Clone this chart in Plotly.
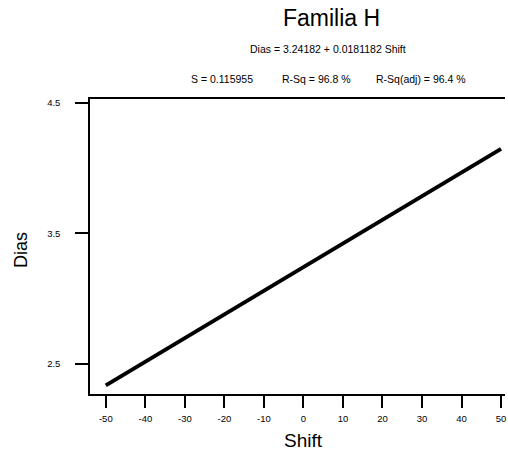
import plotly.graph_objects as go

# Data (fitted regression line)
shift = [-50, -40, -30, -20, -10, 0, 10, 20, 30, 40, 50]
dias = [2.336, 2.517, 2.698, 2.880, 3.061, 3.242, 3.423, 3.604, 3.785, 3.967, 4.148]

x_ticks = [-50, -40, -30, -20, -10, 0, 10, 20, 30, 40, 50]
y_ticks = [2.5, 3.5, 4.5]

title_text = "Familia H"
eq_text = "Dias = 3.24182 + 0.0181182 Shift"
s_text = "S = 0.115955"
rsq_text = "R-Sq = 96.8 %"
rsqadj_text = "R-Sq(adj) = 96.4 %"

FONT = "Liberation Sans, Arial, sans-serif"

fig = go.Figure()
fig.add_trace(go.Scatter(x=shift, y=dias, mode="lines",
                         line=dict(color="black", width=4), showlegend=False))

L, R, T, B = 90, 3, 99, 57
W, H = 508, 451

def px_x(px):
    return (px - L) / (W - L - R)

def px_y(py):
    return (H - B - py) / (H - T - B)

ann = [
    dict(text=title_text, x=px_x(331), y=px_y(18), font=dict(size=23)),
    dict(text=eq_text, x=px_x(328), y=px_y(49), font=dict(size=10.5)),
    dict(text=s_text, x=px_x(222), y=px_y(79), font=dict(size=10.5)),
    dict(text=rsq_text, x=px_x(316), y=px_y(79), font=dict(size=10.5)),
    dict(text=rsqadj_text, x=px_x(421), y=px_y(79), font=dict(size=10.5)),
    dict(text="Dias", x=px_x(21), y=px_y(250), font=dict(size=18), textangle=-90),
    dict(text="Shift", x=px_x(303), y=px_y(440), font=dict(size=19)),
]
for a in ann:
    a.update(xref="paper", yref="paper", showarrow=False,
             xanchor="center", yanchor="middle")
    a["font"].update(family=FONT, color="black")

fig.update_layout(
    width=W, height=H,
    margin=dict(l=L, r=R, t=T, b=B),
    paper_bgcolor="white", plot_bgcolor="white",
    font=dict(family=FONT, color="black"),
    annotations=ann,
    xaxis=dict(range=[-54, 51], tickvals=x_ticks, ticktext=[str(v) for v in x_ticks],
               showgrid=False, zeroline=False, showline=True, mirror=True,
               linecolor="black", linewidth=1.5, ticks="outside", ticklen=12,
               tickwidth=1.5, tickcolor="black", tickfont=dict(size=9.5),
               ticklabelstandoff=3),
    yaxis=dict(range=[2.27, 4.53], tickvals=y_ticks, ticktext=[str(v) for v in y_ticks],
               showgrid=False, zeroline=False, showline=True, mirror=False,
               linecolor="black", linewidth=1.5, ticks="outside", ticklen=13,
               tickwidth=1.5, tickcolor="black", tickfont=dict(size=9.5),
               ticklabelstandoff=13),
)

fig.write_html("out.html")
